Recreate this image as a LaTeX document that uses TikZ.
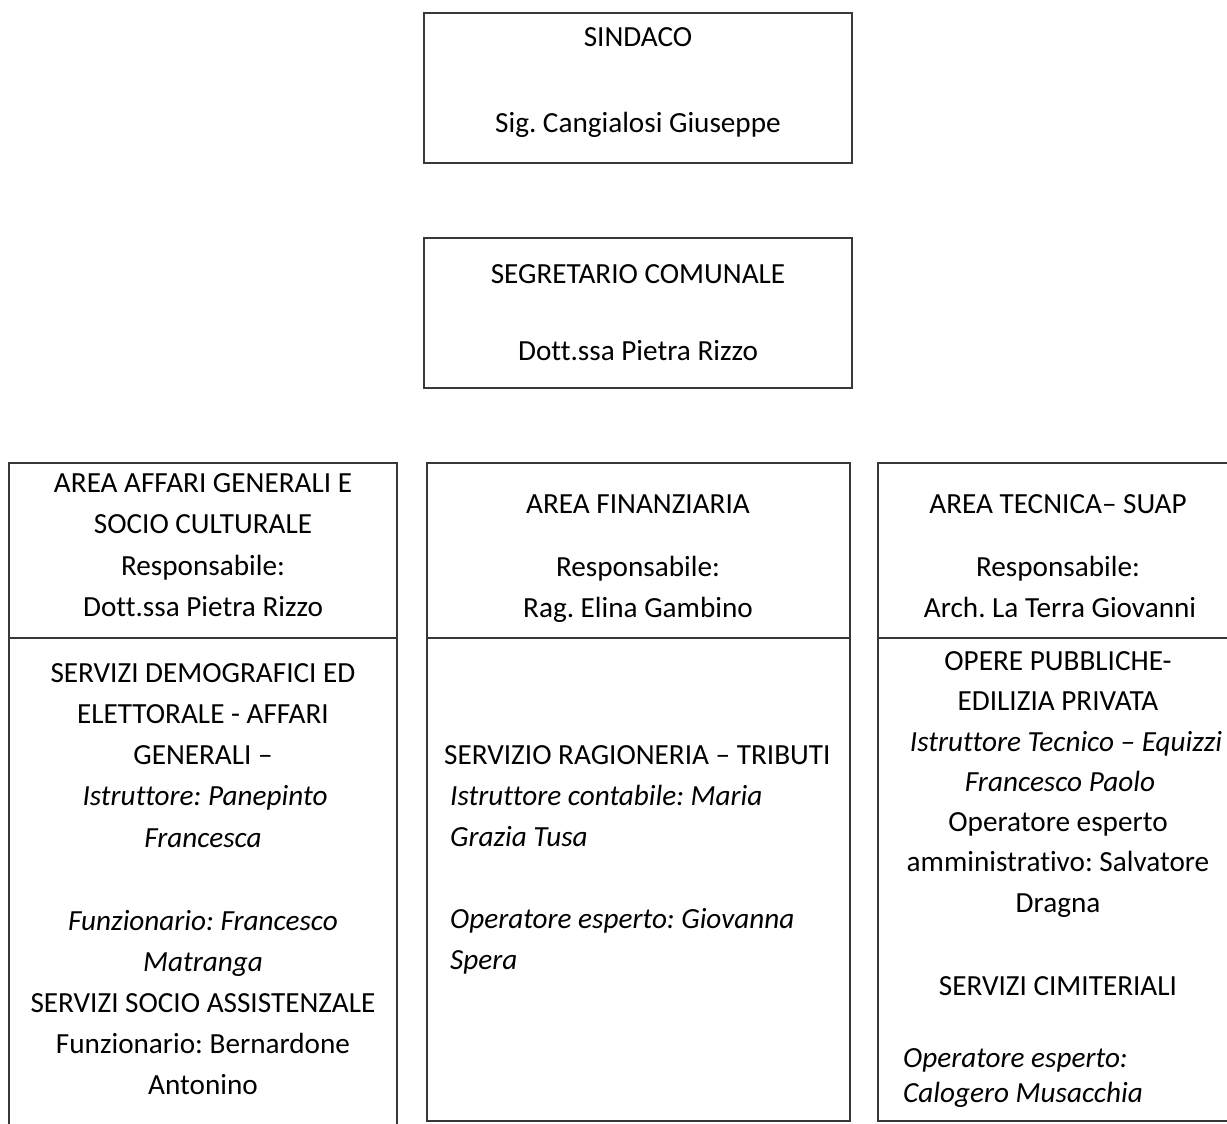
\documentclass[tikz,border=0pt]{standalone}
\usepackage{fontspec}
\setmainfont{Carlito}[Ligatures={TeX,NoCommon}]
\frenchspacing
\begin{document}
\begin{tikzpicture}[x=1pt,y=-1pt,
  box/.style={draw=black!78,line width=1.3pt,inner sep=0pt,outer sep=0pt},
  txt/.style={inner sep=0pt,anchor=base,font=\fontsize{29.2}{41}\selectfont},
  ltxt/.style={txt,anchor=base west},
  itxt/.style={txt,font=\fontsize{29.2}{41}\selectfont\itshape},
  litxt/.style={itxt,anchor=base west}]
\useasboundingbox[fill=white] (0,0) rectangle (1227,1124);

% boxes
\node[box,minimum width=428pt,minimum height=150pt] (sindaco) at (638,88) {};
\node[box,minimum width=428pt,minimum height=150pt] (segretario) at (638,313) {};
\node[box,minimum width=388pt,minimum height=677pt] (areaL) at (203,801.5) {};
\node[box,minimum width=423pt,minimum height=658pt] (areaM) at (638.5,792) {};
\node[box,minimum width=360pt,minimum height=658pt] (areaR) at (1058,792) {};
\coordinate (div) at (0,638);
\draw[draw=black!78,line width=1.3pt] (areaL.west |- div) -- (areaL.east |- div);
\draw[draw=black!78,line width=1.3pt] (areaM.west |- div) -- (areaM.east |- div);
\draw[draw=black!78,line width=1.3pt] (areaR.west |- div) -- (areaR.east |- div);

% top boxes text
\node[txt] (t1) at (638,47) {SINDACO};
\node[txt] (t2) at (638,132) {Sig. Cangialosi Giuseppe};
\node[txt] (t3) at (638,283) {SEGRETARIO COMUNALE};
\node[txt] (t4) at (638,360) {Dott.ssa Pietra Rizzo};

% area headers
\node[txt] (l1) at (203,492) {AREA AFFARI GENERALI E};
\node[txt] (l2) at (203,533) {SOCIO CULTURALE};
\node[txt] (l3) at (203,575) {Responsabile:};
\node[txt] (l4) at (203,616) {Dott.ssa Pietra Rizzo};

\node[txt] (m1) at (638,513) {AREA FINANZIARIA};
\node[txt] (m2) at (638,576) {Responsabile:};
\node[txt] (m3) at (638,617) {Rag. Elina Gambino};

\node[txt] (r1) at (1058,513) {AREA TECNICA– SUAP};
\node[txt] (r2) at (1058,576) {Responsabile:};
\node[txt] (r3) at (1060,617) {Arch. La Terra Giovanni};

% left services
\node[txt] (ls1) at (203,682) {SERVIZI DEMOGRAFICI ED};
\node[txt] (ls2) at (203,723) {ELETTORALE - AFFARI};
\node[txt] (ls3) at (203,764) {GENERALI –};
\node[itxt] (ls4) at (205,805) {Istruttore: Panepinto};
\node[itxt] (ls5) at (203,847) {Francesca};
\node[itxt] (ls6) at (203,930) {Funzionario: Francesco};
\node[itxt] (ls7) at (203,971) {Matranga};
\node[txt] (ls8) at (203,1012) {SERVIZI SOCIO ASSISTENZALE};
\node[txt] (ls9) at (203,1053) {Funzionario: Bernardone};
\node[txt] (ls10) at (203,1094) {Antonino};

% middle services
\node[ltxt] (ms1) at (444,764) {SERVIZIO RAGIONERIA – TRIBUTI};
\node[litxt] (ms2) at (450,805) {Istruttore contabile: Maria};
\node[litxt] (ms3) at (450,846) {Grazia Tusa};
\node[litxt] (ms4) at (450,928) {Operatore esperto: Giovanna};
\node[litxt] (ms5) at (450,969) {Spera};

% right services
\node[txt] (rs1) at (1058,670) {OPERE PUBBLICHE-};
\node[txt] (rs2) at (1058,710) {EDILIZIA PRIVATA};
\node[itxt] (rs3) at (1066,751) {Istruttore Tecnico – Equizzi};
\node[itxt] (rs4) at (1060,791) {Francesco Paolo};
\node[txt] (rs5) at (1058,831) {Operatore esperto};
\node[txt] (rs6) at (1058,871) {amministrativo: Salvatore};
\node[txt] (rs7) at (1058,912) {Dragna};
\node[txt] (rs8) at (1058,995) {SERVIZI CIMITERIALI};
\node[litxt] (rs9) at (903,1067) {Operatore esperto:};
\node[litxt] (rs10) at (903,1102) {Calogero Musacchia};
\end{tikzpicture}
\end{document}
